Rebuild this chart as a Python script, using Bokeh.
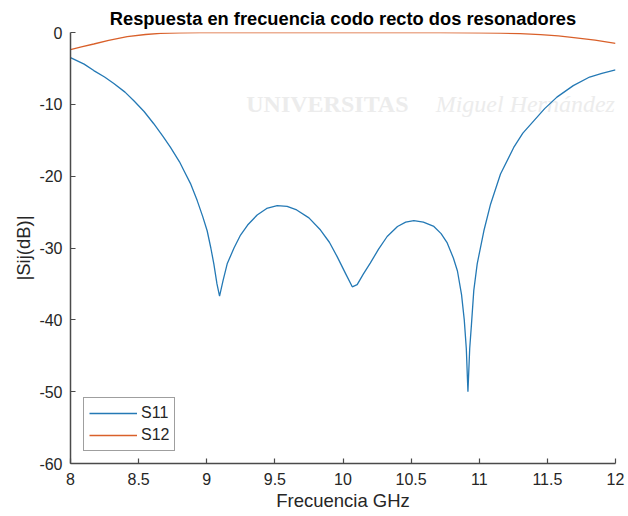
from bokeh.plotting import figure
from bokeh.models import (FixedTicker, CustomJSTickFormatter, Legend, LegendItem,
                          Label, ColumnDataSource)
from bokeh.embed import file_html
from bokeh.resources import INLINE

# ---- data ----
s11_freq = [8.00, 8.10, 8.171, 8.25, 8.318, 8.40, 8.465, 8.54, 8.611, 8.68, 8.734,
            8.80, 8.832, 8.88, 8.93, 8.97, 9.003, 9.03, 9.052, 9.075, 9.094, 9.12,
            9.15, 9.20, 9.248, 9.30, 9.37, 9.44, 9.517, 9.59, 9.66, 9.75, 9.835,
            9.90, 9.957, 10.02, 10.068, 10.104, 10.15, 10.20, 10.26, 10.324, 10.40,
            10.46, 10.52, 10.59, 10.667, 10.72, 10.765, 10.81, 10.84, 10.87, 10.89,
            10.905, 10.917, 10.93, 10.943, 10.96, 10.985, 11.034, 11.083, 11.156,
            11.253, 11.32, 11.40, 11.48, 11.57, 11.69, 11.81, 11.90, 12.00]
s11_db = [-3.5, -4.4, -5.3, -6.2, -7.1, -8.3, -9.5, -11.0, -12.7, -14.5, -16.0,
          -18.0, -19.2, -21.0, -23.4, -25.6, -27.6, -30.0, -32.2, -35.0, -36.7, -34.5,
          -32.2, -30.0, -28.2, -26.8, -25.4, -24.5, -24.1, -24.2, -24.7, -25.8, -27.5,
          -29.2, -31.2, -33.6, -35.4, -35.1, -33.6, -32.1, -30.2, -28.4, -27.0,
          -26.4, -26.2, -26.4, -27.0, -28.0, -29.3, -31.4, -33.2, -36.5, -40.0,
          -44.0, -50.0, -44.0, -40.6, -35.9, -32.2, -27.6, -23.9, -19.7,
          -16.0, -14.0, -12.3, -10.6, -9.0, -7.4, -6.2, -5.7, -5.2]

s12_freq = [8.00, 8.08, 8.171, 8.28, 8.416, 8.55, 8.66, 8.80, 8.95, 9.2, 9.5, 9.8,
            10.1, 10.4, 10.716, 11.0, 11.156, 11.30, 11.45, 11.58, 11.694, 11.85, 12.00]
s12_db = [-2.4, -2.0, -1.6, -1.1, -0.56, -0.28, -0.12, -0.05, -0.02, -0.01, -0.01, -0.01,
          -0.01, -0.02, -0.03, -0.05, -0.08, -0.17, -0.3, -0.48, -0.7, -1.05, -1.5]

x_ticks = [8, 8.5, 9, 9.5, 10, 10.5, 11, 11.5, 12]
y_ticks = [-60, -50, -40, -30, -20, -10, 0]

title_text = "Respuesta en frecuencia codo recto dos resonadores"
x_label = "Frecuencia GHz"
y_label = "|Sij(dB)|"
series_names = ["S11", "S12"]
series_colors = ["#2479b5", "#d9602a"]

FONT = "Liberation Sans"
AX = "#262626"

p = figure(frame_width=545, frame_height=431, x_range=(8, 12), y_range=(-60, 0),
           output_backend="svg", toolbar_location=None,
           min_border_left=70, min_border_right=13, min_border_top=32, min_border_bottom=53,
           background_fill_color="white", border_fill_color="white")

p.outline_line_color = None
p.grid.visible = False

p.title.text = title_text
p.title.align = "center"
p.title.text_font = FONT
p.title.text_font_size = "18.3px"
p.title.text_font_style = "bold"
p.title.text_color = "black"
p.title.standoff = 7

for ax in (p.xaxis[0], p.yaxis[0]):
    ax.axis_line_color = "#4a4a4a"
    ax.axis_line_width = 1.5
    ax.major_tick_line_color = "#4a4a4a"
    ax.major_tick_line_width = 1.2
    ax.major_tick_in = 5
    ax.major_tick_out = 0
    ax.minor_tick_line_color = None
    ax.major_label_text_font = FONT
    ax.major_label_text_font_size = "16px"
    ax.major_label_text_color = AX
    ax.axis_label_text_font = FONT
    ax.axis_label_text_font_size = "18.5px"
    ax.axis_label_text_font_style = "normal"
    ax.axis_label_text_color = AX

p.xaxis.ticker = FixedTicker(ticks=x_ticks)
p.yaxis.ticker = FixedTicker(ticks=y_ticks)
p.xaxis.formatter = CustomJSTickFormatter(code="return tick.toString();")
p.yaxis.formatter = CustomJSTickFormatter(code="return tick.toString();")
p.xaxis.axis_label = x_label
p.yaxis.axis_label = y_label
p.xaxis.major_label_standoff = 9
p.xaxis.axis_label_standoff = 2
p.yaxis.major_label_standoff = 8
p.yaxis.axis_label_standoff = 2

# faint watermark of the source document
wm1 = Label(x=9.29, y=-11.8, text="UNIVERSITAS", text_font="Liberation Serif",
            text_font_size="24px", text_font_style="bold", text_color="#ececec",
            level="underlay")
wm2 = Label(x=10.68, y=-11.8, text="Miguel Hernández", text_font="Liberation Serif",
            text_font_size="24px", text_font_style="italic", text_color="#ececec",
            level="underlay")
for w in (wm1, wm2):
    p.add_layout(w)

src11 = ColumnDataSource(dict(x=s11_freq, y=s11_db))
src12 = ColumnDataSource(dict(x=s12_freq, y=s12_db))
r11 = p.line("x", "y", source=src11, line_color=series_colors[0], line_width=1.3)
r12 = p.line("x", "y", source=src12, line_color=series_colors[1], line_width=1.3)

legend = Legend(items=[LegendItem(label=series_names[0], renderers=[r11]),
                       LegendItem(label=series_names[1], renderers=[r12])],
                location=(13, 12), margin=0, padding=5, spacing=2,
                glyph_width=48, glyph_height=20, label_height=20, label_standoff=4,
                label_text_font=FONT, label_text_font_size="16px", label_text_color=AX,
                border_line_color="#404040", border_line_width=1.5,
                background_fill_color="white", background_fill_alpha=1.0)
p.add_layout(legend)

open("out.html", "w").write(file_html(p, INLINE))
